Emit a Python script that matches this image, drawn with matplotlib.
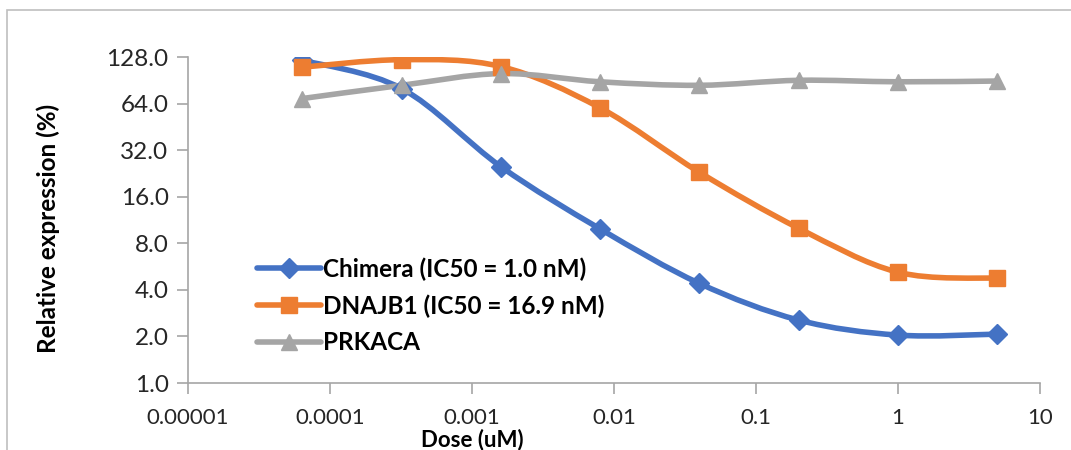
import numpy as np
import matplotlib
matplotlib.use("Agg")
import matplotlib.pyplot as plt
from matplotlib.path import Path
from matplotlib.patches import PathPatch, Rectangle
from matplotlib.ticker import FixedLocator, FixedFormatter, NullLocator

plt.rcParams['font.family'] = ['Lato', 'DejaVu Sans']

# data
dose = [0.000064, 0.00032, 0.0016, 0.008, 0.04, 0.2, 1, 5]
chimera = [122, 80, 25, 9.9, 4.4, 2.55, 2.04, 2.07]
dnajb1 = [110, 123, 111, 60, 23, 10.0, 5.2, 4.75]
prkaca = [69, 84, 100, 88.5, 84, 90.5, 88.5, 89.5]

labels = ['Chimera (IC50 = 1.0 nM)', 'DNAJB1 (IC50 = 16.9 nM)', 'PRKACA']
colors = ['#4472C4', '#ED7D31', '#A5A5A5']
markers = ['D', 's', '^']
msizes = [10, 12, 12]

yticks = [1, 2, 4, 8, 16, 32, 64, 128]
xticks = [0.00001, 0.0001, 0.001, 0.01, 0.1, 1, 10]
xticklabels = ['0.00001', '0.0001', '0.001', '0.01', '0.1', '1', '10']


def smooth_path(x, y):
    # excel-like smoothed line: cubic bezier through points, built in log space
    lx = np.log10(x)
    ly = np.log2(y)
    n = len(lx)
    verts = [(lx[0], ly[0])]
    codes = [Path.MOVETO]
    for i in range(n - 1):
        p0 = (lx[max(i - 1, 0)], ly[max(i - 1, 0)])
        p1 = (lx[i], ly[i])
        p2 = (lx[i + 1], ly[i + 1])
        p3 = (lx[min(i + 2, n - 1)], ly[min(i + 2, n - 1)])
        c1 = (p1[0] + (p2[0] - p0[0]) / 6, p1[1] + (p2[1] - p0[1]) / 6)
        c2 = (p2[0] - (p3[0] - p1[0]) / 6, p2[1] - (p3[1] - p1[1]) / 6)
        verts += [c1, c2, p2]
        codes += [Path.CURVE4] * 3
    verts = [(10 ** a, 2 ** b) for a, b in verts]
    return Path(verts, codes)


fig = plt.figure(figsize=(10.71, 4.5), dpi=100)
ax = fig.add_axes([188 / 1071, 1 - 383 / 450, (1040 - 188) / 1071, (383 - 57) / 450])
ax.set_xscale('log')
ax.set_yscale('log', base=2)
ax.set_xlim(0.00001, 10)
ax.set_ylim(1, 128)

for vals, lab, c, m, ms in zip([chimera, dnajb1, prkaca], labels, colors, markers, msizes):
    patch = PathPatch(smooth_path(dose, vals), facecolor='none', edgecolor=c,
                      lw=4, capstyle='round', joinstyle='round', zorder=2)
    ax.add_patch(patch)
    ax.plot(dose, vals, linestyle='none', marker=m, markersize=ms, color=c, zorder=3)
    # legend proxy
    ax.plot([], [], color=c, lw=4, marker=m, markersize=ms, label=lab,
            solid_capstyle='round')

ax.yaxis.set_major_locator(FixedLocator(yticks))
ax.yaxis.set_major_formatter(FixedFormatter(['%.1f' % v for v in yticks]))
ax.yaxis.set_minor_locator(NullLocator())
ax.xaxis.set_major_locator(FixedLocator(xticks))
ax.xaxis.set_major_formatter(FixedFormatter(xticklabels))
ax.xaxis.set_minor_locator(NullLocator())

for s in ['top', 'right']:
    ax.spines[s].set_visible(False)
for s in ['left', 'bottom']:
    ax.spines[s].set_color('#A6A6A6')
    ax.spines[s].set_linewidth(1.2)
ax.tick_params(axis='both', colors='#A6A6A6', length=8, width=1.2)
ax.tick_params(axis='y', labelcolor='#262626', labelsize=17.5, pad=6)
ax.tick_params(axis='x', labelcolor='#262626', labelsize=16, pad=10)

leg = ax.legend(loc='upper left', bbox_to_anchor=(0.07, 0.415), frameon=False,
                prop={'weight': 'bold', 'size': 17.5}, handlelength=2.6,
                handletextpad=0.1, labelspacing=0.55, borderaxespad=0)
for t in leg.get_texts():
    t.set_color('black')

fig.text(48 / 1071, 1 - 228 / 450, 'Relative expression (%)', rotation=90,
         ha='center', va='center', fontsize=17.5, fontweight='bold')
fig.text(472 / 1071, 1 - 440 / 450, 'Dose (uM)', ha='center', va='center',
         fontsize=16, fontweight='bold')

# outer chart frame (cropped on the right and bottom)
fig.add_artist(Rectangle((7 / 1071, -0.1), 1.2, 1.1 - 10 / 450,
                         transform=fig.transFigure, fill=False,
                         edgecolor='#BFBFBF', lw=1.2))

fig.savefig('out.png', dpi=100)
